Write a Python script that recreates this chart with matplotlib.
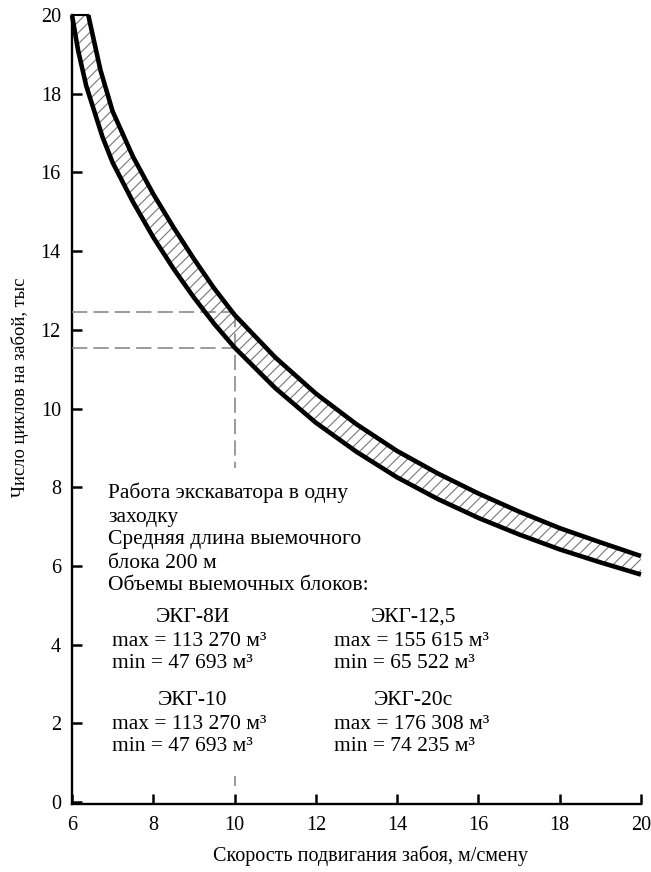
import matplotlib
matplotlib.use('Agg')
import matplotlib.pyplot as plt
import numpy as np

plt.rcParams['font.family'] = ['Liberation Serif', 'DejaVu Serif']
plt.rcParams['hatch.linewidth'] = 0.8

# upper boundary of the band
up_x = [6.4, 6.55, 6.7, 7.0, 7.5, 8.0, 8.5, 9.0, 9.5, 10.0, 11.0, 12.0, 13.0,
        14.0, 15.0, 16.0, 17.0, 18.0, 19.0, 20.0]
up_y = [20.0, 19.3, 18.6, 17.55, 16.4, 15.45, 14.6, 13.8, 13.05, 12.38, 11.3,
        10.38, 9.6, 8.92, 8.35, 7.84, 7.38, 6.96, 6.6, 6.25]

# lower boundary of the band
lo_x = [6.0, 6.15, 6.35, 6.75, 7.0, 7.5, 8.0, 8.5, 9.0, 9.5, 10.0, 11.0, 12.0,
        13.0, 14.0, 15.0, 16.0, 17.0, 18.0, 19.0, 20.0]
lo_y = [20.0, 19.1, 18.2, 16.9, 16.25, 15.25, 14.35, 13.55, 12.82, 12.15, 11.55,
        10.52, 9.64, 8.9, 8.25, 7.7, 7.22, 6.8, 6.42, 6.09, 5.78]

# reading example at 10 m/shift
read_x = 10.0
read_hi = 12.45
read_lo = 11.55

xticks = [6, 8, 10, 12, 14, 16, 18, 20]
yticks = [0, 2, 4, 6, 8, 10, 12, 14, 16, 18, 20]

notes = ['Работа экскаватора в одну', 'заходку', 'Средняя длина выемочного',
         'блока 200 м', 'Объемы выемочных блоков:']
models = ['ЭКГ-8И', 'ЭКГ-12,5', 'ЭКГ-10', 'ЭКГ-20с']
vmax = ['113 270', '155 615', '113 270', '176 308']
vmin = ['47 693', '65 522', '47 693', '74 235']

fig = plt.figure(figsize=(6.51, 8.72), dpi=100)
ax = fig.add_axes([0.1106, 0.078, 0.874, 0.9048])

band_x = np.concatenate([up_x, lo_x[::-1]])
band_y = np.concatenate([up_y, lo_y[::-1]])
ax.fill(band_x, band_y, facecolor='white', edgecolor='#777777',
        hatch='///', linewidth=0, zorder=2)
ax.plot(up_x, up_y, color='black', lw=3.3, solid_capstyle='butt',
        clip_on=False, zorder=4)
ax.plot(lo_x, lo_y, color='black', lw=3.3, solid_capstyle='butt',
        clip_on=False, zorder=4)
ax.plot([lo_x[0], up_x[0]], [lo_y[0], up_y[0]], color='black', lw=1.5,
        clip_on=False, zorder=4)

dash = dict(color='#808080', lw=1.1, dashes=(10, 4), zorder=3)
ax.plot([6, read_x], [read_hi, read_hi], **dash)
ax.plot([6, read_x], [read_lo, read_lo], **dash)
ax.plot([read_x, read_x], [read_hi, 8.5], **dash)
ax.plot([read_x, read_x], [0.4, 0.65], **dash)

fs = 15.5
note_y = [7.85, 7.24, 6.66, 6.07, 5.49]
for t, yy in zip(notes, note_y):
    ax.text(6.89, yy, t, fontsize=fs, ha='left', va='center')

cols = [(8.97, 6.985), (14.4, 12.45), (8.97, 6.985), (14.4, 12.45)]
rows = [(4.70, 4.07, 3.51), (4.70, 4.07, 3.51), (2.57, 1.98, 1.40), (2.57, 1.98, 1.40)]
for m, a, b, (cx, lx), (y1, y2, y3) in zip(models, vmax, vmin, cols, rows):
    ax.text(cx, y1, m, fontsize=fs, ha='center', va='center')
    ax.text(lx, y2, 'max = ' + a + ' м³', fontsize=fs, ha='left', va='center')
    ax.text(lx, y3, 'min = ' + b + ' м³', fontsize=fs, ha='left', va='center')

ax.set_xlim(6, 20)
ax.set_ylim(-0.05, 20)
ax.set_xticks(xticks)
ax.set_yticks(yticks)
ax.tick_params(direction='in', length=7.5, width=1.8, labelsize=14.5)
ax.tick_params(axis='x', pad=9)
ax.tick_params(axis='y', pad=8)
for s in ['top', 'right']:
    ax.spines[s].set_visible(False)
for s in ['left', 'bottom']:
    ax.spines[s].set_linewidth(1.7)

ax.set_xlabel('Скорость подвигания забоя, м/смену', fontsize=14.5)
ax.set_ylabel('Число циклов на забой, тыс', fontsize=13.3)
ax.xaxis.set_label_coords(0.525, -0.052)
ax.yaxis.set_label_coords(-0.076, 0.5285)

fig.savefig('out.png', dpi=100)
